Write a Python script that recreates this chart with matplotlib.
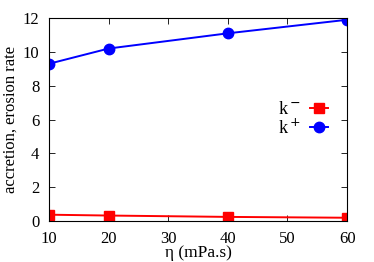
import numpy as np
import matplotlib
matplotlib.use('Agg')
import matplotlib.pyplot as plt

plt.rcParams['font.family'] = ['Liberation Serif', 'DejaVu Serif']

eta = [10, 20, 40, 60]
k_minus = [0.38, 0.33, 0.25, 0.20]
k_plus = [9.3, 10.2, 11.1, 11.9]

fig = plt.figure(figsize=(3.74, 2.62), dpi=100)
ax = fig.add_axes([0.131, 0.156, 0.797, 0.775])
ax.plot(eta, k_minus, color='#ff0000', marker='s', markersize=6.5, lw=1.4, label='k$^-$')
ax.plot(eta, k_plus, color='#0000ff', marker='o', markersize=7.5, lw=1.4, label='k$^+$')
ax.set_xlim(10, 60)
ax.set_ylim(0, 12)
ax.set_xticks([10, 20, 30, 40, 50, 60])
ax.set_yticks([0, 2, 4, 6, 8, 10, 12])
ax.tick_params(direction='in', top=True, right=True, labelsize=12, length=4, width=0.6, pad=7)
for s in ax.spines.values():
    s.set_linewidth(0.8)
ax.set_xlabel('η (mPa.s)', fontsize=12.5, labelpad=-1)
ax.set_ylabel('accretion, erosion rate', fontsize=12, labelpad=3)
leg = ax.legend(loc='center right', bbox_to_anchor=(0.936, 0.5), frameon=False, markerfirst=False,
                fontsize=13, handlelength=1.0, handletextpad=0.5, labelspacing=0.0,
                borderaxespad=0, borderpad=0)
fig.savefig('out.png', dpi=100)
